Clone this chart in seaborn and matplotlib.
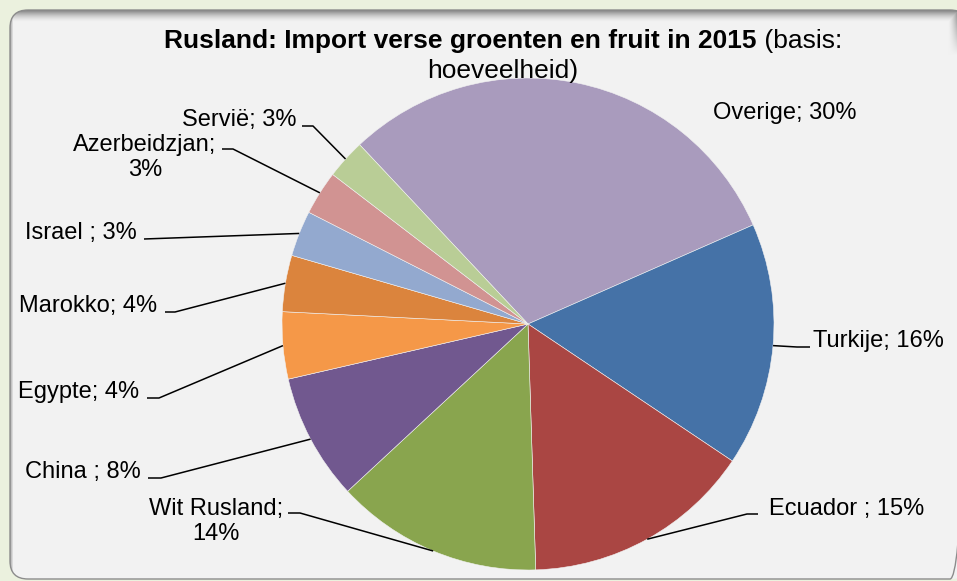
import matplotlib
matplotlib.use("Agg")
import matplotlib.pyplot as plt
import seaborn as sns
import numpy as np
from matplotlib.patches import FancyBboxPatch

sns.set_theme(style="white")
plt.rcParams['font.family'] = ['Liberation Sans', 'DejaVu Sans']
plt.rcParams['text.color'] = 'black'

# data (share of import volume, %)
countries = ['Overige', 'Turkije', 'Ecuador ', 'Wit Rusland', 'China ', 'Egypte',
             'Marokko', 'Israel ', 'Azerbeidzjan', 'Servië']
shares = [30.4, 16.0, 15.1, 13.6, 8.3, 4.4, 3.7, 3.0, 2.9, 2.6]
slice_colors = ['#A99BBD', '#4572A7', '#AA4643', '#89A54E', '#71588F', '#F59848',
                '#DB843D', '#93A9CF', '#D19392', '#B9CD96']

W, H = 957, 581
cx, cy, R = 528, 324, 246   # pie centre / radius in pixels (from top-left)

# label layout in pixels: leader-line elbows, text anchor (baseline of last line), alignment, wrapped?
layout = {
    'Overige':      dict(pts=[], txt=(713, 119), ha='left', wrap=False),
    'Turkije':      dict(pts=[(797, 347), (810, 347)], txt=(813, 347), ha='left', wrap=False),
    'Ecuador ':     dict(pts=[(747, 514), (758, 514)], txt=(769, 515), ha='left', wrap=False),
    'Wit Rusland':  dict(pts=[(300, 513), (288, 513)], txt=(216, 540), ha='center', wrap=True),
    'China ':       dict(pts=[(161, 478), (148, 478)], txt=(141, 478), ha='right', wrap=False),
    'Egypte':       dict(pts=[(159, 398), (147, 398)], txt=(139, 398), ha='right', wrap=False),
    'Marokko':      dict(pts=[(175, 312), (165, 312)], txt=(157, 312), ha='right', wrap=False),
    'Israel ':      dict(pts=[(144, 239)], txt=(137, 239), ha='right', wrap=False),
    'Azerbeidzjan': dict(pts=[(233, 149), (222, 149)], txt=(145, 176), ha='center', wrap=True),
    'Servië':       dict(pts=[(313, 126), (302, 126)], txt=(296, 126), ha='right', wrap=False),
}

fig = plt.figure(figsize=(W / 100, H / 100), dpi=100, facecolor='#EBF1DE')

# background panel: rounded box with an inner shadow along the top edge
bg = fig.add_axes([0, 0, 1, 1])
bg.axis('off')
panel_l, panel_t, panel_r, panel_b = 10, 10, 968, 579
box = dict(boxstyle='round,pad=0,rounding_size=18')
panel = FancyBboxPatch((panel_l, panel_t), panel_r - panel_l, panel_b - panel_t,
                       facecolor='#F2F2F2', edgecolor='none', zorder=0, **box)
bg.add_patch(panel)
yy, xx = np.mgrid[0:H, 0:W] + 0.5
f_top = np.clip(1 - (yy - panel_t) / 12, 0, 1) ** 1.6
f_left = np.clip(1 - (xx - panel_l) / 3.5, 0, 1)
f_right = np.clip(1 - (W - xx) / 9, 0, 1) ** 1.5 * np.clip(1 - (yy - panel_t) / 45, 0, 1)
shade = np.maximum(np.maximum(f_top, f_left * 0.7), f_right * 0.8)
grey = (242 - (242 - 125) * shade) / 255
img = bg.imshow(np.dstack([grey, grey, grey]), extent=(0, W, H, 0), interpolation='nearest', zorder=1)
img.set_clip_path(panel)
bg.add_patch(FancyBboxPatch((panel_l, panel_t), panel_r - panel_l, panel_b - panel_t,
                            facecolor='none', edgecolor='#8C8C8C', linewidth=1.0, zorder=2, **box))
bg.set_aspect('auto')
bg.set_xlim(0, W)
bg.set_ylim(H, 0)

ax = fig.add_axes([(cx - R) / W, (H - cy - R) / H, 2 * R / W, 2 * R / H])
palette = sns.color_palette(slice_colors)
wedges, _ = ax.pie(shares, colors=palette, startangle=133.2, counterclock=False, radius=1,
                   wedgeprops=dict(edgecolor='#F2F2F2', linewidth=0.4))
ax.set_xlim(-1, 1)
ax.set_ylim(-1, 1)
ax.set_aspect('equal')
ax.axis('off')


def to_data(px, py):
    return (px - cx) / R, (cy - py) / R


total = sum(shares)
for w, name, val in zip(wedges, countries, shares):
    lay = layout[name]
    pct = int(round(val / total * 100))
    sep = '\n' if lay['wrap'] else ' '
    label = f"{name};{sep}{pct}%"
    if lay['pts']:
        mid = np.deg2rad((w.theta1 + w.theta2) / 2)
        xs = [np.cos(mid)] + [to_data(*p)[0] for p in lay['pts']]
        ys = [np.sin(mid)] + [to_data(*p)[1] for p in lay['pts']]
        ax.plot(xs, ys, color='black', lw=1.1, clip_on=False, solid_capstyle='butt')
    tx, ty = to_data(*lay['txt'])
    ax.text(tx, ty, label, ha=lay['ha'], va='baseline', fontsize=17, color='black',
            multialignment='center', clip_on=False)

# title: bold part + regular part, centred on the panel
title_cx = 503
t1 = fig.text(0, 1 - 48 / H, 'Rusland: Import verse groenten en fruit in 2015',
              fontsize=19, fontweight='bold', ha='left', va='baseline', zorder=3)
t2 = fig.text(0, 1 - 48 / H, ' (basis:', fontsize=19, ha='left', va='baseline', zorder=3)
renderer = fig.canvas.get_renderer()
w1 = t1.get_window_extent(renderer).width
w2 = t2.get_window_extent(renderer).width
x0 = title_cx - (w1 + w2) / 2
t1.set_x(x0 / W)
t2.set_x((x0 + w1) / W)
fig.text(title_cx / W, 1 - 78 / H, 'hoeveelheid)', fontsize=19, ha='center', va='baseline', zorder=3)

fig.savefig('out.png', dpi=100, facecolor=fig.get_facecolor())
